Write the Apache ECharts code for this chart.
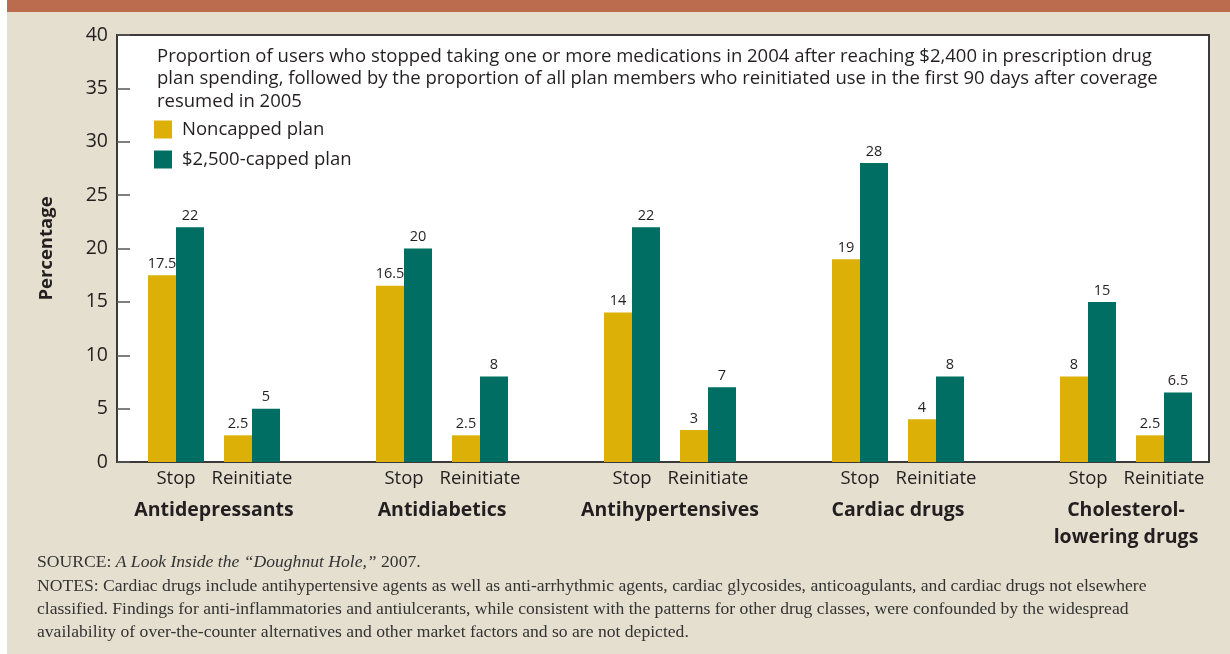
<!DOCTYPE html>
<html>
<head>
<meta charset="utf-8">
<script src="https://cdn.jsdelivr.net/npm/echarts@6/dist/echarts.min.js"></script>
<style>
  html, body { margin: 0; padding: 0; background: #ffffff; }
  #chart { width: 1230px; height: 654px; }
</style>
</head>
<body>
<div id="chart"></div>
<script>
// Bar slots: Stop / Reinitiate per drug class, with an empty slot between classes
const slotLabels = ['Stop', 'Reinitiate', '', 'Stop', 'Reinitiate', '', 'Stop', 'Reinitiate', '',
                    'Stop', 'Reinitiate', '', 'Stop', 'Reinitiate'];
const drugClasses = ['Antidepressants', 'Antidiabetics', 'Antihypertensives', 'Cardiac drugs',
                     'Cholesterol-\nlowering drugs'];
// Percentages, in order: Stop, Reinitiate for each drug class
const noncappedPlan = [17.5, 2.5, 16.5, 2.5, 14, 3, 19, 4, 8, 2.5];
const cappedPlan = [22, 5, 20, 8, 22, 7, 28, 8, 15, 6.5];
const yTicks = [0, 5, 10, 15, 20, 25, 30, 35, 40];
const seriesNames = ['Noncapped plan', '$2,500-capped plan'];
const noteLines = [
  'Proportion of users who stopped taking one or more medications in 2004 after reaching $2,400 in prescription drug',
  'plan spending, followed by the proportion of all plan members who reinitiated use in the first 90 days after coverage',
  'resumed in 2005'
];
const footNotes = [
  'NOTES: Cardiac drugs include antihypertensive agents as well as anti-arrhythmic agents, cardiac glycosides, anticoagulants, and cardiac drugs not elsewhere',
  'classified. Findings for anti-inflammatories and antiulcerants, while consistent with the patterns for other drug classes, were confounded by the widespread',
  'availability of over-the-counter alternatives and other market factors and so are not depicted.'
];

// Spread the Stop/Reinitiate pairs across the slots, leaving the gap slots empty
function toSlots(values) {
  const out = [];
  let k = 0;
  slotLabels.forEach(function (s) { out.push(s === '' ? '-' : values[k++]); });
  return out;
}
// Class names sit on the boundary between each Stop and Reinitiate slot
const classAxis = [];
for (let i = 0; i <= slotLabels.length; i++) {
  classAxis.push(i % 3 === 1 ? drugClasses[(i - 1) / 3] : '');
}

const SANS = '"Open Sans", "Noto Sans", sans-serif';
const SERIF = '"Liberation Serif", "DejaVu Serif", serif';
const INK = '#231f20';
const YELLOW = '#dcb006';
const TEAL = '#006e62';

const chart = echarts.init(document.getElementById('chart'), null, { renderer: 'canvas' });

const option = {
  backgroundColor: '#e4dfcf',
  animation: false,
  textStyle: { fontFamily: SANS },
  color: [YELLOW, TEAL],
  legend: {
    data: seriesNames,
    orient: 'vertical',
    left: 154,
    top: 120,
    padding: 0,
    itemWidth: 18,
    itemHeight: 18,
    itemGap: 11,
    icon: 'rect',
    selectedMode: false,
    textStyle: { fontFamily: SANS, fontSize: 18.5, color: INK, padding: [0, 0, 0, 5] }
  },
  grid: [
    // framed white plot panel carrying the percentage scale
    { left: 117, right: 21, top: 35, bottom: 192, show: true, backgroundColor: '#ffffff',
      borderColor: '#3a3a3a', borderWidth: 2 },
    // inner band holding the bar slots
    { left: 138, right: 28, top: 35, bottom: 192 }
  ],
  xAxis: [
    { gridIndex: 0, type: 'value', min: 0, max: 1, show: false },
    { gridIndex: 1, type: 'category', data: slotLabels, position: 'bottom',
      axisLine: { show: false }, axisTick: { show: false },
      axisLabel: { interval: 0, fontFamily: SANS, fontSize: 18.5, color: INK, margin: 7 } },
    { gridIndex: 1, type: 'category', data: classAxis, boundaryGap: false, position: 'bottom',
      axisLine: { show: false }, axisTick: { show: false }, splitLine: { show: false },
      axisLabel: { interval: 0, fontFamily: SANS, fontSize: 19.5, fontWeight: 'bold', color: INK,
                   margin: 35, lineHeight: 27, verticalAlign: 'top' } }
  ],
  yAxis: [
    { gridIndex: 0, type: 'value', min: yTicks[0], max: yTicks[yTicks.length - 1], interval: 5,
      name: 'Percentage', nameLocation: 'middle', nameGap: 61,
      nameTextStyle: { fontFamily: SANS, fontSize: 18.5, fontWeight: 'bold', color: INK },
      axisLine: { show: true, lineStyle: { color: '#3a3a3a', width: 2 } },
      axisTick: { show: true, inside: true, length: 13, lineStyle: { color: '#555', width: 1.5 } },
      axisLabel: { fontFamily: SANS, fontSize: 19.5, color: INK, margin: 9 },
      splitLine: { show: false } },
    { gridIndex: 1, type: 'value', min: yTicks[0], max: yTicks[yTicks.length - 1], show: false }
  ],
  series: [
    { name: seriesNames[0], type: 'bar', xAxisIndex: 1, yAxisIndex: 1, data: toSlots(noncappedPlan),
      barWidth: 28, barGap: '0%', itemStyle: { color: YELLOW },
      label: { show: true, position: 'top', distance: 4, fontFamily: SANS, fontSize: 14.5, color: INK } },
    { name: seriesNames[1], type: 'bar', xAxisIndex: 1, yAxisIndex: 1, data: toSlots(cappedPlan),
      barWidth: 28, barGap: '0%', itemStyle: { color: TEAL },
      label: { show: true, position: 'top', distance: 4, fontFamily: SANS, fontSize: 14.5, color: INK } }
  ],
  graphic: [
    { type: 'rect', left: 0, top: 0, shape: { width: 7, height: 654 }, style: { fill: '#ffffff' }, silent: true },
    { type: 'rect', left: 7, top: 0, shape: { width: 1223, height: 12 }, style: { fill: '#bb6c4e' }, silent: true },
    { type: 'text', left: 157, top: 45, z: 10,
      style: { text: noteLines.join('\n'), fontFamily: SANS, fontSize: 18.5, lineHeight: 22.5, fill: INK } },
    { type: 'text', left: 37, top: 553,
      style: {
        text: '{r|SOURCE: }{i|A Look Inside the \u201cDoughnut Hole,\u201d}{r| 2007.}',
        rich: {
          r: { fontFamily: SERIF, fontSize: 17.6, fill: '#333' },
          i: { fontFamily: SERIF, fontSize: 17.6, fontStyle: 'italic', fill: '#333' }
        }
      } },
    { type: 'text', left: 37, top: 575,
      style: { text: footNotes.join('\n'), fontFamily: SERIF, fontSize: 17.6, lineHeight: 23, fill: '#333' } }
  ]
};

chart.setOption(option);
</script>
</body>
</html>
